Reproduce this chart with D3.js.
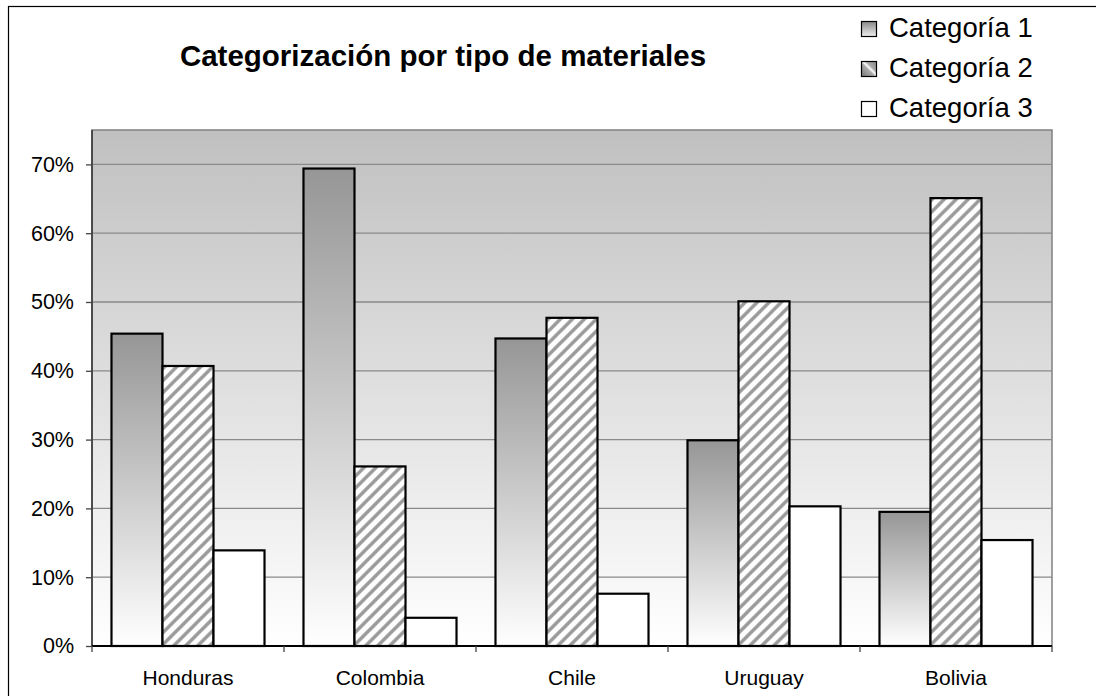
<!DOCTYPE html>
<html><head><meta charset="utf-8">
<script src="https://cdn.jsdelivr.net/npm/d3@7/dist/d3.min.js"></script>
<style>html,body{margin:0;padding:0;background:#fff;} svg{display:block;font-family:"Liberation Sans",Arial,sans-serif;}</style>
</head><body>
<svg id="c" width="1096" height="696"></svg>
<script>
const title = "Categorización por tipo de materiales";
const countries = ["Honduras", "Colombia", "Chile", "Uruguay", "Bolivia"];
const seriesNames = ["Categoría 1", "Categoría 2", "Categoría 3"];
const cat1 = [0.454, 0.694, 0.447, 0.299, 0.195];
const cat2 = [0.407, 0.261, 0.477, 0.501, 0.651];
const cat3 = [0.139, 0.041, 0.076, 0.203, 0.154];
const yTicks = [0, 0.1, 0.2, 0.3, 0.4, 0.5, 0.6, 0.7];

const series = [cat1, cat2, cat3];
const svg = d3.select("#c");
const defs = svg.append("defs");

const bg = defs.append("linearGradient").attr("id","bgGrad").attr("x1",0).attr("y1",0).attr("x2",0).attr("y2",1);
bg.append("stop").attr("offset","0%").attr("stop-color","#c0c0c0");
bg.append("stop").attr("offset","100%").attr("stop-color","#ffffff");

const g1 = defs.append("linearGradient").attr("id","c1Grad").attr("x1",0).attr("y1",0).attr("x2",0).attr("y2",1);
g1.append("stop").attr("offset","0%").attr("stop-color","#969696");
g1.append("stop").attr("offset","100%").attr("stop-color","#ffffff");

const lg1 = defs.append("linearGradient").attr("id","lg1").attr("x1",0).attr("y1",0).attr("x2",0).attr("y2",1);
lg1.append("stop").attr("offset","0%").attr("stop-color","#888");
lg1.append("stop").attr("offset","100%").attr("stop-color","#eee");

const hatch = defs.append("pattern").attr("id","hatch").attr("patternUnits","userSpaceOnUse")
  .attr("width",12).attr("height",12);
hatch.append("rect").attr("width",12).attr("height",12).attr("fill","#ffffff");
hatch.append("path").attr("d","M-3,3 L3,-3 M0,12 L12,0 M9,15 L15,9")
  .attr("stroke","#9a9a9a").attr("stroke-width",3.4);

const lhatch = defs.append("linearGradient").attr("id","lhatch").attr("x1",0).attr("y1",1).attr("x2",1).attr("y2",0);
lhatch.append("stop").attr("offset","0%").attr("stop-color","#777");
lhatch.append("stop").attr("offset","45%").attr("stop-color","#aaa");
lhatch.append("stop").attr("offset","55%").attr("stop-color","#fff");
lhatch.append("stop").attr("offset","65%").attr("stop-color","#aaa");
lhatch.append("stop").attr("offset","100%").attr("stop-color","#888");

// outer border
svg.append("rect").attr("x",8.5).attr("y",6.5).attr("width",1200).attr("height",800)
  .attr("fill","none").attr("stroke","#000").attr("stroke-width",1.2);

const L = 92, R = 1052, T = 130, B = 646;
const x0 = d3.scaleBand().domain(countries).range([L, R]).paddingInner(0.203).paddingOuter(0.1015);
const x1 = d3.scaleBand().domain([0,1,2]).range([0, x0.bandwidth()]);
const y = d3.scaleLinear().domain([0, 0.75]).range([B, T]);

svg.append("rect").attr("x",L).attr("y",T).attr("width",R-L).attr("height",B-T)
  .attr("fill","url(#bgGrad)").attr("stroke","#808080").attr("stroke-width",1.5);

svg.append("g").selectAll("line").data(yTicks.slice(1)).join("line")
  .attr("x1",L).attr("x2",R).attr("y1",d=>y(d)).attr("y2",d=>y(d))
  .attr("stroke","#8a8a8a").attr("stroke-width",1.3);

const fills = ["url(#c1Grad)","url(#hatch)","#ffffff"];
const gG = svg.append("g").selectAll("g").data(countries).join("g")
  .attr("transform", d=>`translate(${x0(d)},0)`);
gG.selectAll("rect").data((c,i)=>series.map((s,k)=>({k, v:s[i]}))).join("rect")
  .attr("x", d=>x1(d.k)).attr("width", x1.bandwidth())
  .attr("y", d=>y(d.v)).attr("height", d=>y(0)-y(d.v))
  .attr("fill", d=>fills[d.k]).attr("stroke","#000").attr("stroke-width",2.2);

// y axis
const yAxis = d3.axisLeft(y).tickValues(yTicks).tickFormat(d3.format(".0%")).tickSize(6).tickPadding(12);
const ya = svg.append("g").attr("transform",`translate(${L},0)`).call(yAxis);
ya.select(".domain").attr("stroke","#222").attr("stroke-width",1.3).attr("d",`M0,${T}V${B}`);
ya.selectAll(".tick line").attr("stroke","#444").attr("stroke-width",1.3);
ya.selectAll("text").attr("font-size",21.5).attr("font-family","'Liberation Sans',Arial,sans-serif").attr("fill","#000");

// x axis
const xa = svg.append("g").attr("transform",`translate(0,${B})`);
xa.append("line").attr("x1",L).attr("x2",R).attr("y1",0).attr("y2",0).attr("stroke","#000").attr("stroke-width",2);
const bounds = d3.range(countries.length+1).map(i => L + i*(R-L)/countries.length);
xa.selectAll(".xt").data(bounds).join("line").attr("class","xt")
  .attr("x1",d=>d).attr("x2",d=>d).attr("y1",0).attr("y2",6).attr("stroke","#444").attr("stroke-width",1.3);
xa.selectAll("text").data(countries).join("text")
  .attr("x", d=>x0(d)+x0.bandwidth()/2).attr("y", 39)
  .attr("text-anchor","middle").attr("font-size",21).text(d=>d);

// title
svg.append("text").attr("x",443).attr("y",66).attr("text-anchor","middle")
  .attr("font-size",29.5).attr("font-weight","bold").text(title);

// legend
const lfills = ["url(#lg1)","url(#lhatch)","#ffffff"];
const lg = svg.append("g").selectAll("g").data(seriesNames).join("g")
  .attr("transform",(d,i)=>`translate(861,${21+i*40})`);
lg.append("rect").attr("x",0.5).attr("y",0.5).attr("width",15).attr("height",15)
  .attr("fill",(d,i)=>lfills[i]).attr("stroke","#000").attr("stroke-width",1.2);
lg.append("text").attr("x",28).attr("y",16).attr("font-size",27.5).text(d=>d);
</script>
</body></html>
